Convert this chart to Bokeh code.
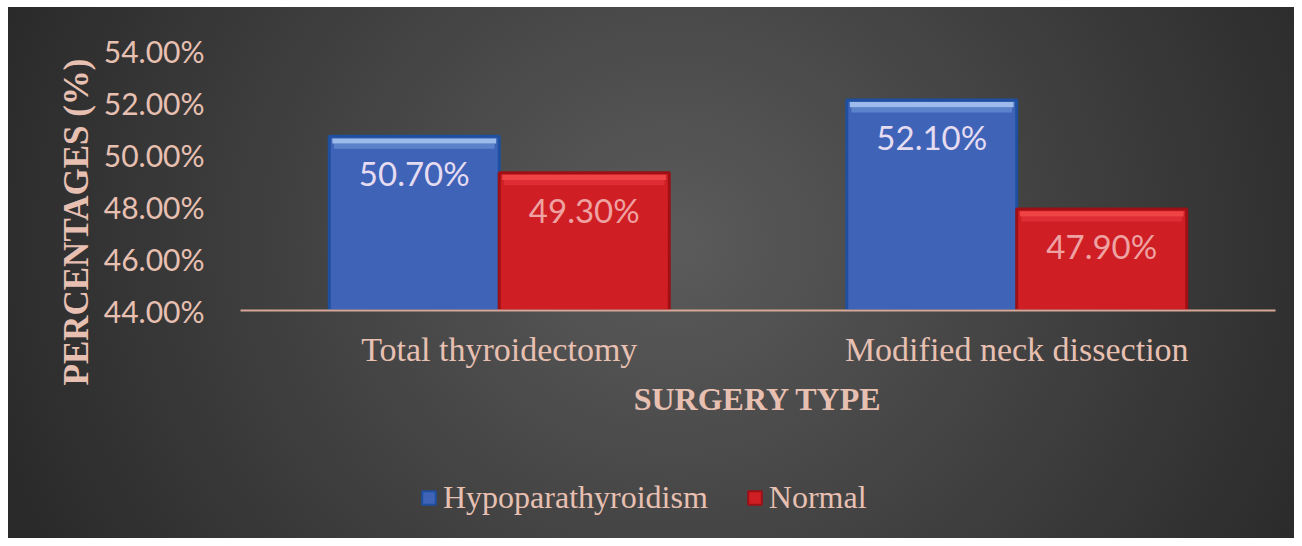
from bokeh.plotting import figure
from bokeh.layouts import column
from bokeh.models import (ColumnDataSource, Range1d, FixedTicker, PrintfTickFormatter,
                          Legend, LegendItem, Title)
from bokeh.core.properties import value
from bokeh.embed import file_html
from bokeh.resources import INLINE

# ---- data ----
categories = ["Total thyroidectomy", "Modified neck dissection"]
hypo = [50.70, 52.10]
normal = [49.30, 47.90]
series_names = ["Hypoparathyroidism", "Normal"]
y_ticks = [44, 46, 48, 50, 52, 54]

SERIF = "Liberation Serif"
SANS = "Lato"
TXT = "#e8c0b2"
BLUE = dict(face="#3e63b7", edge="#1f4f9f", hi1="#9cbbea", hi2="#6489d0", lab="#e6dcf2")
RED = dict(face="#cf1f25", edge="#9e1015", hi1="#f04444", hi2="#e2303a", lab="#eea2a2")

BG = ("linear-gradient(#ffffff, #ffffff) top left / 100% 7px no-repeat, "
      "linear-gradient(#ffffff, #ffffff) top left / 8px 100% no-repeat, "
      "radial-gradient(ellipse 55% 120% at 52% 45%, #5b5b5b 0%, #4a4a4a 35%, #2a2a2a 100%)")

p = figure(width=1294, height=438, output_backend="svg", toolbar_location=None,
           x_range=Range1d(0, len(categories)), y_range=Range1d(44, 54),
           min_border_left=240, min_border_right=19, min_border_top=50, min_border_bottom=128,
           background_fill_color=None, border_fill_color=None, outline_line_color=None)
p.grid.visible = False

centers = [i + 0.5 for i in range(len(categories))]
bw = 0.3285
off = bw / 2

def bars(vals, shift, c):
    xs = [x + shift for x in centers]
    src = ColumnDataSource(dict(
        x=xs, top=vals,
        t1=[v - 0.08 for v in vals], b1=[v - 0.28 for v in vals],
        b2=[v - 0.48 for v in vals],
        lab=[f"{v:.2f}%" for v in vals]))
    p.vbar(x="x", top="top", bottom=44, width=bw, source=src,
           fill_color=c["face"], line_color=c["edge"], line_width=3)
    p.vbar(x="x", top="b1", bottom="b2", width=bw - 0.018, source=src,
           fill_color=c["hi2"], line_color=None, fill_alpha=0.8)
    p.vbar(x="x", top="t1", bottom="b1", width=bw - 0.012, source=src,
           fill_color=c["hi1"], line_color=None)
    p.text(x="x", y="top", text="lab", source=src, y_offset=37,
           text_align="center", text_baseline="middle", text_color=c["lab"],
           text_font=value(SANS), text_font_size="33px")

bars(hypo, -off, BLUE)
bars(normal, off, RED)

# axes
xa = p.xaxis[0]
xa.ticker = FixedTicker(ticks=centers)
xa.major_label_overrides = {c: n for c, n in zip(centers, categories)}
xa.major_tick_line_color = None
xa.minor_tick_line_color = None
xa.axis_line_color = "#d8a696"
xa.axis_line_width = 2
xa.major_label_text_font = SERIF
xa.major_label_text_font_size = "34px"
xa.major_label_text_color = TXT
xa.major_label_standoff = 14
xa.axis_label = "SURGERY TYPE"
xa.axis_label_text_font = SERIF
xa.axis_label_text_font_style = "bold"
xa.axis_label_text_font_size = "32px"
xa.axis_label_text_color = TXT
xa.axis_label_standoff = 10

ya = p.yaxis[0]
ya.ticker = FixedTicker(ticks=y_ticks)
ya.formatter = PrintfTickFormatter(format="%.2f%%")
ya.major_tick_line_color = None
ya.minor_tick_line_color = None
ya.axis_line_color = None
ya.major_label_text_font = SANS
ya.major_label_text_font_size = "30px"
ya.major_label_text_color = TXT
ya.major_label_standoff = 30

ytitle = Title(text="PERCENTAGES  (%)", align="left", offset=-75, standoff=10,
               text_font=SERIF, text_font_style="bold", text_font_size="35px",
               text_color=TXT)
p.add_layout(ytitle, "left")

# legend strip (separate figure under the chart)
q = figure(width=1294, height=100, output_backend="svg", toolbar_location=None,
           x_range=Range1d(0, 1), y_range=Range1d(0, 1), min_border=0,
           background_fill_color=None, border_fill_color=None, outline_line_color=None)
q.axis.visible = False
q.grid.visible = False
hidden = dict(x=[-5.0], top=[-5.0])
lr1 = q.vbar(x="x", top="top", width=0.1, source=ColumnDataSource(hidden),
             fill_color=BLUE["face"], line_color=BLUE["edge"], line_width=2)
lr2 = q.vbar(x="x", top="top", width=0.1, source=ColumnDataSource(hidden),
             fill_color=RED["face"], line_color=RED["edge"], line_width=2)
legend = Legend(items=[LegendItem(label=series_names[0], renderers=[lr1]),
                       LegendItem(label=series_names[1], renderers=[lr2])],
                location=(180, 22), orientation="horizontal",
                background_fill_alpha=0, border_line_color=None,
                glyph_width=17, glyph_height=17, label_standoff=6, spacing=38,
                padding=0, margin=0,
                label_text_font=SERIF, label_text_font_size="32px", label_text_color=TXT)
q.add_layout(legend)

layout = column(p, q, spacing=0, styles={"background": BG})
open("out.html", "w").write(file_html(layout, INLINE))
